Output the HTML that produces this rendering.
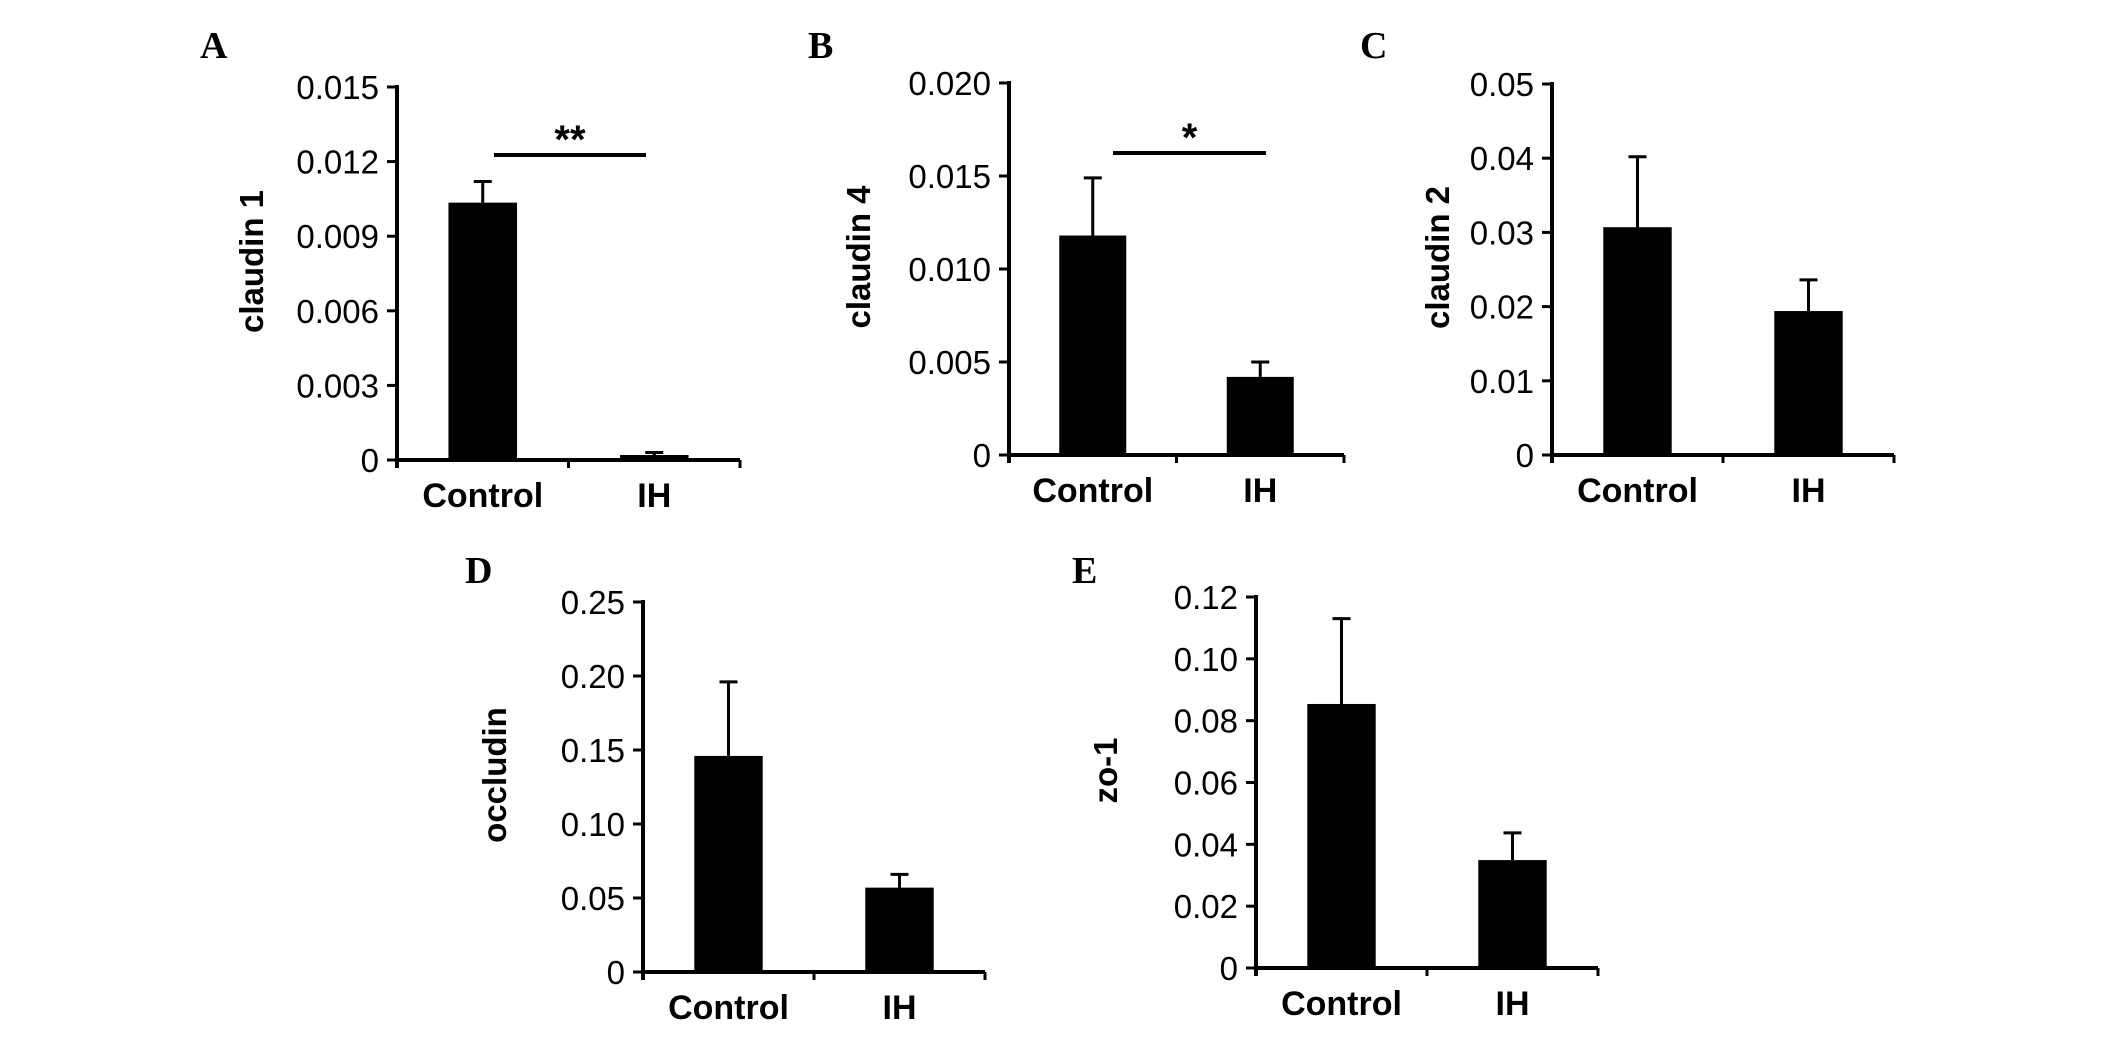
<!DOCTYPE html>
<html><head><meta charset="utf-8">
<style>
html,body{margin:0;padding:0;background:#fff;}
svg{display:block;}
text{font-family:"Liberation Sans",Arial,sans-serif;fill:#000;}
.lbl{font-family:"Liberation Serif","Times New Roman",serif;font-weight:bold;font-size:38px;}
.tick{font-size:33px;}
.cat{font-size:34px;font-weight:bold;}
.ttl{font-size:33px;font-weight:bold;}
</style></head>
<body>
<svg id="fig" width="2126" height="1038" viewBox="0 0 2126 1038"></svg>
<script>
const categories = ["Control", "IH"];
const claudin1Means = [0.01035, 0.0002];
const claudin1Errors = [0.00085, 0.0001];
const claudin1Ticks = ["0", "0.003", "0.006", "0.009", "0.012", "0.015"];
const claudin4Means = [0.0118, 0.0042];
const claudin4Errors = [0.0031, 0.0008];
const claudin4Ticks = ["0", "0.005", "0.010", "0.015", "0.020"];
const claudin2Means = [0.0307, 0.0194];
const claudin2Errors = [0.0095, 0.0042];
const claudin2Ticks = ["0", "0.01", "0.02", "0.03", "0.04", "0.05"];
const occludinMeans = [0.146, 0.057];
const occludinErrors = [0.050, 0.009];
const occludinTicks = ["0", "0.05", "0.10", "0.15", "0.20", "0.25"];
const zo1Means = [0.0854, 0.0349];
const zo1Errors = [0.0276, 0.0088];
const zo1Ticks = ["0", "0.02", "0.04", "0.06", "0.08", "0.10", "0.12"];

const NS = "http://www.w3.org/2000/svg";
const svg = document.getElementById("fig");
function mk(tag, attrs, parent, txt) {
  const e = document.createElementNS(NS, tag);
  for (const k in attrs) e.setAttribute(k, attrs[k]);
  if (txt !== undefined) e.textContent = txt;
  (parent || svg).appendChild(e);
  return e;
}

const panels = [
  {id:"a", letter:"A", lx:200, ly:58, ax:397, top:87, y0:460, xEnd:740, title:"claudin 1", tx:252,
   means:claudin1Means, errs:claudin1Errors, ticks:claudin1Ticks, sig:{x1:494, x2:646, y:155, txt:"**"}},
  {id:"b", letter:"B", lx:808, ly:58, ax:1009, top:83, y0:455, xEnd:1344, title:"claudin 4", tx:859,
   means:claudin4Means, errs:claudin4Errors, ticks:claudin4Ticks, sig:{x1:1113, x2:1266, y:153, txt:"*"}},
  {id:"c", letter:"C", lx:1360, ly:58, ax:1552, top:84, y0:455, xEnd:1894, title:"claudin 2", tx:1438,
   means:claudin2Means, errs:claudin2Errors, ticks:claudin2Ticks},
  {id:"d", letter:"D", lx:465, ly:583, ax:643, top:602, y0:972, xEnd:985, title:"occludin", tx:495,
   means:occludinMeans, errs:occludinErrors, ticks:occludinTicks},
  {id:"e", letter:"E", lx:1072, ly:583, ax:1256, top:597, y0:968, xEnd:1598, title:"zo-1", tx:1106,
   means:zo1Means, errs:zo1Errors, ticks:zo1Ticks}
];

panels.forEach(p => {
  const g = mk("g", {});
  
  
  const ymax = parseFloat(p.ticks[p.ticks.length - 1]);
  const yS = v => p.y0 - (v / ymax) * (p.y0 - p.top);
  const band = (p.xEnd - p.ax) / categories.length;
  const barW = band * 0.40;
  const xC = i => p.ax + band * (i + 0.5);

  const L = mk("text", {x:p.lx, y:p.ly, class:"lbl"}, g, p.letter);
  
  

  categories.forEach((c, i) => {
    const yt = yS(p.means[i]);
    const r = mk("rect", {x:xC(i) - barW / 2, y:yt, width:barW, height:p.y0 - yt, fill:"#000"}, g);
    
    
    const ye = yS(p.means[i] + p.errs[i]);
    const eg = mk("g", {stroke:"#000", "stroke-width":3}, g);
    
    
    mk("line", {x1:xC(i), x2:xC(i), y1:yt, y2:ye}, eg);
    mk("line", {x1:xC(i) - 9, x2:xC(i) + 9, y1:ye, y2:ye}, eg);
    const ct = mk("text", {x:xC(i), y:p.y0 + 47, class:"cat", "text-anchor":"middle"}, g, c);
    
    
  });

  const ya = mk("line", {x1:p.ax, x2:p.ax, y1:p.top - 2, y2:p.y0 + 8, stroke:"#000", "stroke-width":4}, g);
  
  
  const xa = mk("line", {x1:p.ax - 2, x2:p.xEnd, y1:p.y0, y2:p.y0, stroke:"#000", "stroke-width":4}, g);
  
  
  for (let k = 1; k <= categories.length; k++) {
    const x = p.ax + band * k;
    mk("line", {x1:x, x2:x, y1:p.y0, y2:p.y0 + 8, stroke:"#000", "stroke-width":3}, g);
  }
  p.ticks.forEach(t => {
    const y = yS(parseFloat(t));
    mk("line", {x1:p.ax - 10, x2:p.ax, y1:y, y2:y, stroke:"#000", "stroke-width":3}, g);
    const tt = mk("text", {x:p.ax - 18, y:y + 12, class:"tick", "text-anchor":"end"}, g, t);
    
    
  });

  const cy = (p.top + p.y0) / 2 - 12;
  const ti = mk("text", {x:p.tx + 11, y:cy, class:"ttl", "text-anchor":"middle",
    transform:"rotate(-90 " + (p.tx + 11) + " " + cy + ")"}, g, p.title);
  
  

  if (p.sig) {
    const sl = mk("line", {x1:p.sig.x1, x2:p.sig.x2, y1:p.sig.y, y2:p.sig.y, stroke:"#000", "stroke-width":4}, g);
    
    
    const st = mk("text", {x:(p.sig.x1 + p.sig.x2) / 2, y:p.sig.y - 2, "font-size":40, "font-weight":"bold", "text-anchor":"middle"}, g, p.sig.txt);
    
    
  }
});
</script>
</body></html>
